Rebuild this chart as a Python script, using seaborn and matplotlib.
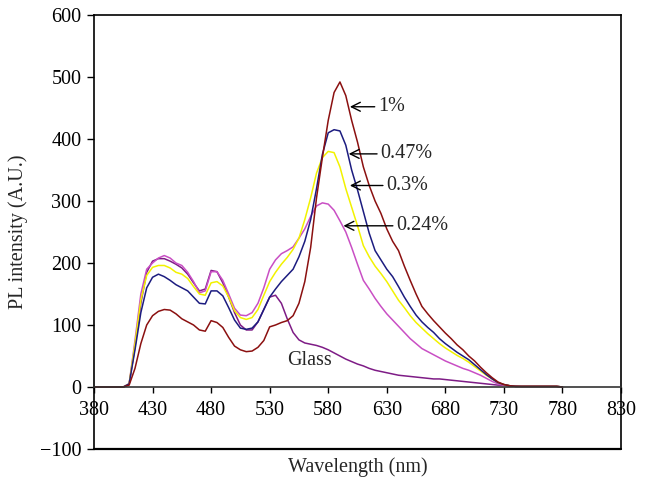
import numpy as np
import pandas as pd
import matplotlib
matplotlib.use("Agg")
import matplotlib.pyplot as plt
import seaborn as sns

# ---------------- data ----------------
wavelength = list(range(380, 781, 5))

conc_1 = [0, 0, 0, 0, 0, 0,
          3, 30, 70, 100, 115, 122, 125, 124, 118, 110, 105, 100, 92, 90,
          107, 104, 96, 80, 66, 60, 57, 58, 64, 75, 97, 100, 104, 107, 115,
          135, 170, 225, 305, 370, 430, 475, 492, 470, 430, 395, 355, 325, 300,
          280, 255, 235, 220, 195, 172, 150, 130, 118, 107, 97, 87, 78, 68, 60,
          50, 42, 32, 23, 15, 8, 4, 2, 1,
          1, 1, 1, 1, 1, 1, 1, 0]

conc_047 = [0, 0, 0, 0, 0, 0,
            5, 60, 120, 160, 177, 182, 178, 172, 165, 160, 155, 145, 135, 134,
            155, 155, 147, 128, 108, 95, 93, 95, 105, 125, 145, 158, 170, 180, 190,
            210, 235, 270, 320, 375, 410, 415, 413, 390, 350, 318, 283, 248, 220,
            205, 190, 178, 162, 145, 130, 116, 105, 96, 88, 78, 70, 63, 56, 50,
            44, 36, 28, 20, 13, 7, 4, 2, 1,
            1, 1, 1, 1, 1, 1, 1, 0]

conc_03 = [0, 0, 0, 0, 0, 0,
           5, 70, 140, 180, 193, 196, 196, 192, 185, 182, 175, 162, 150, 148,
           168, 170, 163, 145, 123, 112, 109, 112, 125, 148, 170, 185, 198, 209, 222,
           240, 270, 305, 345, 370, 380, 378, 355, 320, 290, 260, 228, 210, 195,
           183, 170, 155, 140, 128, 115, 104, 95, 86, 78, 70, 63, 57, 51, 46,
           40, 33, 26, 19, 13, 7, 4, 2, 1,
           1, 1, 1, 1, 1, 1, 1, 0]

conc_024 = [0, 0, 0, 0, 0, 0,
            5, 75, 150, 190, 200, 208, 212, 208, 200, 196, 185, 170, 152, 155,
            186, 186, 172, 150, 127, 116, 115, 120, 135, 160, 190, 205, 215, 220, 226,
            240, 255, 275, 292, 297, 295, 285, 268, 250, 225, 198, 172, 158, 143,
            130, 118, 108, 98, 88, 78, 70, 62, 57, 52, 47, 42, 38, 34, 30,
            27, 23, 19, 14, 9, 5, 3, 2, 1,
            1, 1, 1, 1, 1, 1, 1, 0]

glass = [0, 0, 0, 0, 0, 0,
         5, 65, 135, 185, 203, 207, 207, 203, 198, 192, 182, 168, 155, 158,
         188, 186, 168, 145, 120, 100, 92, 92, 105, 125, 145, 148, 135, 110, 88,
         76, 71, 69, 67, 64, 60, 55, 50, 45, 41, 37, 34, 30, 27,
         25, 23, 21, 19, 18, 17, 16, 15, 14, 13, 13, 12, 11, 10, 9,
         8, 7, 6, 5, 4, 3, 3, 2, 2,
         1, 1, 1, 1, 1, 1, 1, 0]

series_names = ["1%", "0.47%", "0.3%", "0.24%", "Glass"]
series_values = [conc_1, conc_047, conc_03, conc_024, glass]
series_colors = ["#8B1010", "#1C1C80", "#F2F200", "#C94FC4", "#7E1C86"]

x_ticks = [380, 430, 480, 530, 580, 630, 680, 730, 780, 830]
y_ticks = [-100, 0, 100, 200, 300, 400, 500, 600]

# arrow annotations: label, arrow head (x, y), text start x
ann_labels = ["1%", "0.47%", "0.3%", "0.24%"]
ann_head_x = [598.5, 597.5, 598.5, 593.0]
ann_head_y = [452, 376, 325, 260]
ann_text_x = [622.5, 624.5, 629.5, 638.0]

# ---------------- build frame ----------------
frames = []
for name, vals in zip(series_names, series_values):
    frames.append(pd.DataFrame({"wavelength": wavelength, "intensity": vals, "sample": name}))
df = pd.concat(frames, ignore_index=True)

sns.set_style("white")
plt.rcParams["font.family"] = ["Liberation Serif", "DejaVu Serif"]
plt.rcParams["axes.unicode_minus"] = True

FS = 14.5

fig = plt.figure(figsize=(6.46, 4.79), dpi=100)
ax = fig.add_axes([94 / 646, 1 - 449 / 479, (621 - 94) / 646, (449 - 15) / 479])

# draw glass first so the concentration curves sit over it
order = ["Glass", "0.24%", "0.3%", "0.47%", "1%"]
palette = dict(zip(series_names, series_colors))
sns.lineplot(data=df, x="wavelength", y="intensity", hue="sample",
             hue_order=order, palette=palette, linewidth=1.1,
             legend=False, ax=ax, estimator=None)

ax.set_xlim(380, 830)
ax.set_ylim(-100, 600)
ax.set_xticks(x_ticks)
ax.set_yticks(y_ticks)

for s in ["left", "right", "top"]:
    ax.spines[s].set_visible(True)
    ax.spines[s].set_color("black")
    ax.spines[s].set_linewidth(1.2)
ax.spines["bottom"].set_position(("data", 0))
ax.spines["bottom"].set_color("#333333")
ax.spines["bottom"].set_linewidth(1.2)
# bottom edge of the frame at -100
ax.axhline(-100, color="black", linewidth=1.6, clip_on=False, zorder=5)

ax.tick_params(axis="x", direction="out", length=4, width=1, colors="black",
               labelsize=FS, pad=6, bottom=True)
ax.tick_params(axis="y", direction="out", length=5, width=1, colors="black",
               labelsize=FS, pad=4, left=True)

ax.set_xlabel("Wavelength (nm)", fontsize=FS)
ax.set_ylabel("PL intensity (A.U.)", fontsize=FS)
ax.xaxis.set_label_coords(0.5, -0.02)
ax.yaxis.set_label_coords(-0.125, 0.5)

for lab, hx, hy, tx in zip(ann_labels, ann_head_x, ann_head_y, ann_text_x):
    ax.annotate(lab, xy=(hx, hy), xytext=(tx, hy), fontsize=FS,
                va="center", ha="left",
                arrowprops=dict(arrowstyle="->", color="black", lw=1.0,
                                shrinkA=0, shrinkB=0, mutation_scale=16))

ax.text(564, 42, "Glass", fontsize=FS, ha="center", va="center")

fig.savefig("out.png", dpi=100)
